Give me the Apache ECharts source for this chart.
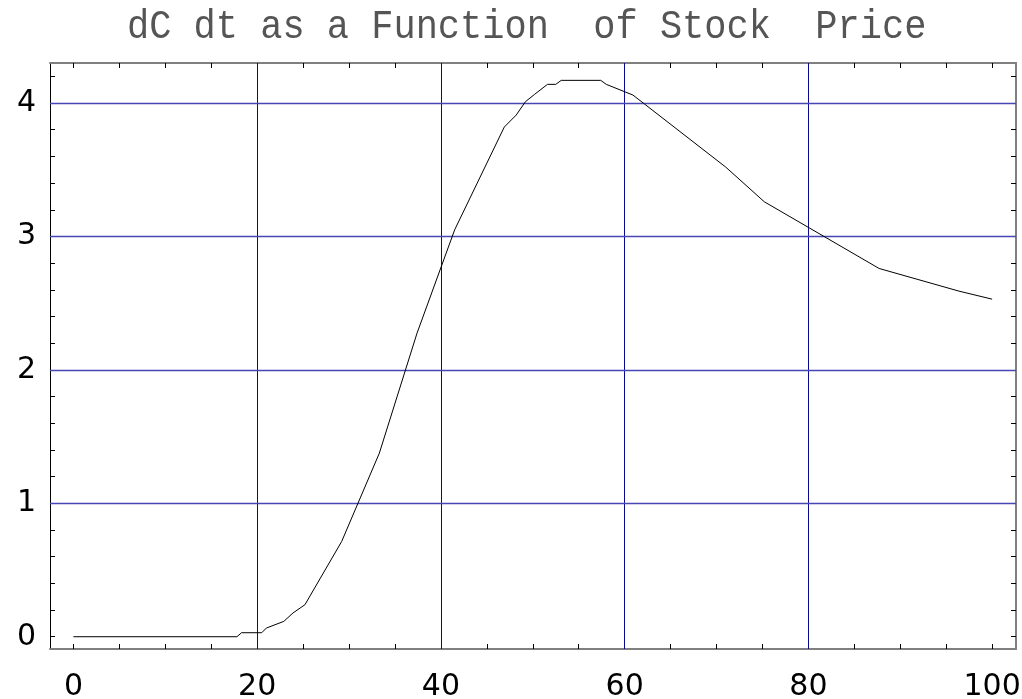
<!DOCTYPE html>
<html>
<head>
<meta charset="utf-8">
<script src="https://cdn.jsdelivr.net/npm/echarts@6.0.0/dist/echarts.min.js"></script>
<style>
html,body{margin:0;padding:0;background:#fff;}
#chart{width:1022px;height:699px;}
</style>
</head>
<body>
<div id="chart"></div>
<script>
// Data
const stockPrice = [0, 17.8, 18.3, 20.5, 21.0, 22.9, 23.9, 25.2, 29.2, 33.3, 37.4, 41.5, 46.9, 48.2, 49.2, 50.2, 51.6, 52.5, 53.1, 57.4, 58.0, 60.9, 71.0, 75.2, 87.7, 96.4, 100];
const dCdt = [0, 0, 0.03, 0.03, 0.065, 0.115, 0.178, 0.24, 0.714, 1.376, 2.275, 3.05, 3.82, 3.91, 4.01, 4.065, 4.14, 4.14, 4.17, 4.17, 4.14, 4.06, 3.52, 3.26, 2.76, 2.59, 2.53];
const xTickLabels = [0, 20, 40, 60, 80, 100];
const xTicks = [0, 5, 10, 15, 20, 25, 30, 35, 40, 45, 50, 55, 60, 65, 70, 75, 80, 85, 90, 95, 100];
const yTickLabels = [0, 1, 2, 3, 4];
const yTicks = [0, 0.2, 0.4, 0.6, 0.8, 1, 1.2, 1.4, 1.6, 1.8, 2, 2.2, 2.4, 2.6, 2.8, 3, 3.2, 3.4, 3.6, 3.8, 4, 4.2];
const xGridLines = [20, 40, 60, 80];
const yGridLines = [1, 2, 3, 4];
const titleText = 'dC dt as a Function  of Stock  Price';

const X_MIN = -2.55, X_MAX = 102.6, Y_MIN = -0.092, Y_MAX = 4.30;

function xAx(pos, showLabel, lineOpt) {
  return {
    type: 'value', position: pos, min: X_MIN, max: X_MAX,
    axisLine: { show: true, onZero: false, lineStyle: lineOpt },
    axisTick: { show: true, inside: true, length: 5, customValues: xTicks, lineStyle: { color: '#000', width: 1 } },
    axisLabel: showLabel ? { show: true, customValues: xTickLabels, margin: 23, fontFamily: 'DejaVu Sans', fontSize: 30, color: '#000' } : { show: false },
    splitLine: { show: false }
  };
}
function yAx(pos, showLabel, lineOpt) {
  return {
    type: 'value', position: pos, min: Y_MIN, max: Y_MAX,
    axisLine: { show: true, onZero: false, lineStyle: lineOpt },
    axisTick: { show: true, inside: true, length: 5, customValues: yTicks, lineStyle: { color: '#000', width: 1 } },
    axisLabel: showLabel ? { show: true, customValues: yTickLabels, margin: 14, padding: [4, 0, 0, 0], fontFamily: 'DejaVu Sans', fontSize: 30, color: '#000' } : { show: false },
    splitLine: { show: false }
  };
}

const chart = echarts.init(document.getElementById('chart'), null, { renderer: 'canvas' });
chart.setOption({
  animation: false,
  backgroundColor: '#fff',
  graphic: [{
    type: 'text', x: 127, y: 27, scaleY: 1.12, silent: true,
    style: {
      text: titleText, fill: '#555',
      font: '37px "Liberation Mono", "DejaVu Sans Mono", monospace',
      align: 'left', verticalAlign: 'middle'
    }
  }],
  grid: { left: 50, right: 6, top: 63, bottom: 50, containLabel: false, outerBoundsMode: 'none' },
  xAxis: [
    xAx('bottom', true, { color: '#7f7f7f', width: 2 }),
    xAx('top', false, { color: '#7f7f7f', width: 2 })
  ],
  yAxis: [
    yAx('left', true, { color: '#000', width: 1 }),
    yAx('right', false, { color: '#7f7f7f', width: 2 })
  ],
  series: [
    {
      name: 'vgrid', type: 'line', data: [], xAxisIndex: 0, yAxisIndex: 0,
      color: '#0a0a90', z: 2, silent: true,
      markLine: {
        silent: true, symbol: ['none', 'none'], label: { show: false }, animation: false,
        lineStyle: { color: '#0a0a90', width: 1, type: 'solid' },
        itemStyle: { color: '#0a0a90' },
        emphasis: { disabled: true },
        data: xGridLines.map(v => ({ xAxis: v }))
      }
    },
    {
      name: 'hgrid', type: 'line', data: [], xAxisIndex: 0, yAxisIndex: 0,
      color: '#4646b4', z: 2, silent: true,
      markLine: {
        silent: true, symbol: ['none', 'none'], label: { show: false }, animation: false,
        lineStyle: { color: '#4646b4', width: 1.3, type: 'solid' },
        itemStyle: { color: '#4646b4' },
        emphasis: { disabled: true },
        data: yGridLines.map(v => ({ yAxis: v }))
      }
    },
    {
      name: 'dCdt', type: 'line', xAxisIndex: 0, yAxisIndex: 0,
      data: stockPrice.map((x, i) => [x, dCdt[i]]),
      showSymbol: false, symbol: 'none', color: '#000',
      lineStyle: { color: '#000', width: 1 },
      z: 5
    }
  ]
});
</script>
</body>
</html>
